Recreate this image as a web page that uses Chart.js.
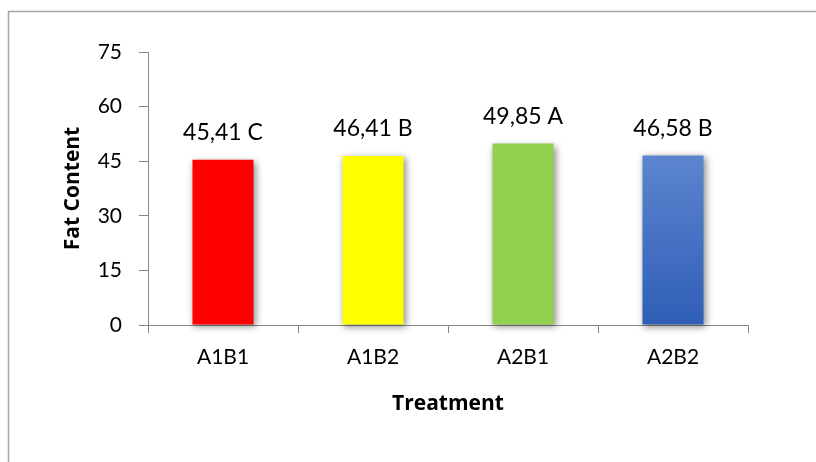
<!DOCTYPE html>
<html>
<head>
<meta charset="utf-8">
<script src="https://cdn.jsdelivr.net/npm/chart.js@4/dist/chart.umd.min.js"></script>
<style>
  html, body { margin: 0; padding: 0; background: #fff; }
  #wrap { width: 816px; height: 462px; }
</style>
</head>
<body>
<div id="wrap"><canvas id="c" width="816" height="462"></canvas></div>
<script>
// Fat content per treatment, with the letter of its significance group
const treatments = ['A1B1', 'A1B2', 'A2B1', 'A2B2'];
const fatContent = [45.41, 46.41, 49.85, 46.58];
const groupLetters = ['C', 'B', 'A', 'B'];
const yTicks = [0, 15, 30, 45, 60, 75];

const FONT = 'Lato, "Open Sans", sans-serif';
const TITLE_FONT = '"Open Sans", Lato, sans-serif';
const AXIS_GREY = '#868686';

// Solid fills for the first three bars, a vertical blue gradient for the last
function barFill(ctx) {
  const i = ctx.dataIndex;
  const solid = ['#ff0000', '#ffff00', '#92d050'];
  if (i < 3) return solid[i];
  const chart = ctx.chart;
  const y = chart.scales && chart.scales.y;
  if (!y || !chart.chartArea) return '#4472c4';
  const g = chart.ctx.createLinearGradient(0, y.getPixelForValue(fatContent[i]), 0, y.getPixelForValue(0));
  g.addColorStop(0, '#5b85cf');
  g.addColorStop(1, '#2f5eb6');
  return g;
}

// Outer frame of the chart
const framePlugin = {
  id: 'frame',
  beforeDraw(chart) {
    const c = chart.ctx;
    c.save();
    c.fillStyle = '#fff';
    c.fillRect(0, 0, chart.width, chart.height);
    c.strokeStyle = '#a6a6a6';
    c.lineWidth = 1.5;
    c.strokeRect(8.5, 11.5, 1000, 1000);
    c.restore();
  }
};

// Soft drop shadow under the bars
const shadowPlugin = {
  id: 'barShadow',
  beforeDatasetsDraw(chart) {
    const c = chart.ctx;
    c.save();
    c.shadowColor = 'rgba(0,0,0,0.45)';
    c.shadowBlur = 7;
    c.shadowOffsetX = 2;
    c.shadowOffsetY = 2;
  },
  afterDatasetsDraw(chart) {
    chart.ctx.restore();
  }
};

// Value + group letter above each bar
const valueLabels = {
  id: 'valueLabels',
  afterDraw(chart) {
    const c = chart.ctx;
    const meta = chart.getDatasetMeta(0);
    c.save();
    c.font = '23px ' + FONT;
    c.fillStyle = '#000';
    c.textAlign = 'center';
    c.textBaseline = 'middle';
    meta.data.forEach((bar, i) => {
      const txt = fatContent[i].toFixed(2).replace('.', ',') + ' ' + groupLetters[i];
      c.fillText(txt, bar.x, bar.y - 27);
    });
    c.restore();
  }
};

function build() {
  new Chart(document.getElementById('c'), {
    type: 'bar',
    data: {
      labels: treatments,
      datasets: [{
        data: fatContent,
        backgroundColor: barFill,
        borderWidth: 0,
        categoryPercentage: 1,
        barPercentage: 0.407,
        clip: false
      }]
    },
    options: {
      responsive: false,
      devicePixelRatio: 1,
      animation: false,
      layout: { padding: { left: 60, top: 52, right: 68, bottom: 45 } },
      plugins: { legend: { display: false }, tooltip: { enabled: false } },
      scales: {
        x: {
          afterFit(s) { s.height = 92; },
          grid: { drawOnChartArea: false, drawTicks: true, tickLength: 8, color: AXIS_GREY, offset: true },
          border: { display: true, color: AXIS_GREY, width: 1 },
          ticks: { color: '#000', font: { family: FONT, size: 21 }, padding: 12, maxRotation: 0 },
          title: { display: true, text: 'Treatment', color: '#000', font: { family: TITLE_FONT, size: 21, weight: 'bold' }, padding: 0 }
        },
        y: {
          min: 0,
          max: 75,
          afterFit(s) { s.width = 88; },
          afterBuildTicks(s) { s.ticks = yTicks.map(v => ({ value: v })); },
          grid: { drawOnChartArea: false, drawTicks: true, tickLength: 9, color: AXIS_GREY },
          border: { display: true, color: AXIS_GREY, width: 1 },
          ticks: { color: '#000', font: { family: FONT, size: 21 }, padding: 17 },
          title: { display: true, text: 'Fat Content', color: '#000', font: { family: TITLE_FONT, size: 21, weight: 'bold' }, padding: 0 }
        }
      }
    },
    plugins: [framePlugin, shadowPlugin, valueLabels]
  });
}

if (document.fonts && document.fonts.load) {
  Promise.all([
    document.fonts.load('21px Lato'),
    document.fonts.load('bold 21px "Open Sans"')
  ]).then(build, build);
} else {
  build();
}
</script>
</body>
</html>
